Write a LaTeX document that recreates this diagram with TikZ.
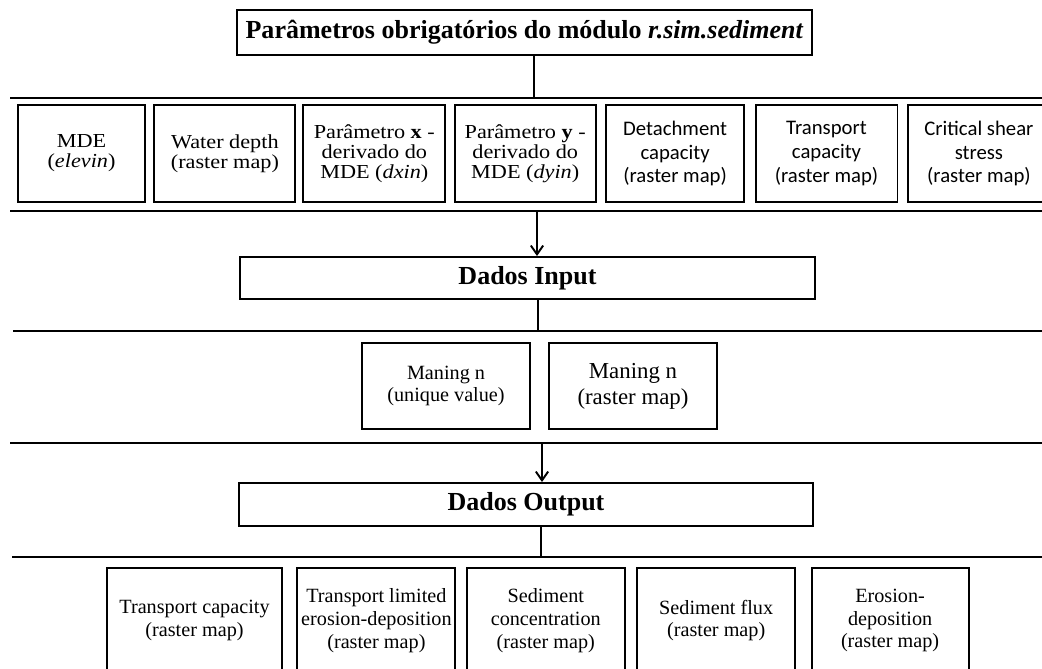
\documentclass[tikz,border=0pt]{standalone}
\usepackage{fontspec}
\setmainfont{Liberation Serif}
\newfontfamily\calibfont{Carlito}
\newfontfamily\widefont[FakeStretch=1.12]{Liberation Serif}
\usetikzlibrary{arrows.meta, positioning}

\tikzset{
  headbox/.style={draw, line width=1.1pt, inner sep=1pt, align=center, font=\fontsize{14.8}{16}\selectfont\bfseries},
  cell/.style={draw, line width=1.1pt, inner sep=1pt, align=center, font=\widefont\fontsize{11.3}{11.3}\selectfont},
  sanscell/.style={cell, font=\calibfont\fontsize{11.8}{13.6}\selectfont},
  outcell/.style={cell, font=\fontsize{11.5}{13}\selectfont},
  rule/.style={line width=1.2pt},
  link/.style={line width=0.7pt},
  arr/.style={line width=1.1pt, -{Straight Barb[length=5pt, width=7pt, line width=1.1pt]}}
}

\begin{document}
\begin{tikzpicture}[x=0.02cm, y=-0.02cm]
\useasboundingbox (0,0) rectangle (1042,669);
\clip (0,0) rectangle (1042,669);

% title
\node[headbox, minimum width=11.5cm, minimum height=0.9cm] (param) at (524.5,32.5)
  {Parâmetros obrigatórios do módulo \textit{r.sim.sediment}};

% rules of the first row
\coordinate (ruleAw) at (10,98);
\coordinate (ruleAe) at (1042,98);
\coordinate (ruleBw) at (10,211);
\coordinate (ruleBe) at (1042,211);
\draw[rule] (ruleAw) -- (ruleAe);
\draw[rule] (ruleBw) -- (ruleBe);
\coordinate (pA) at (534,98);
\draw[link] (param.south -| pA) -- (pA);

% mandatory parameters
\node[cell, minimum width=2.54cm, minimum height=1.94cm] (mde) at (81.5,153.5) {MDE\\(\textit{elevin})};
\node[cell, minimum width=2.82cm, minimum height=1.94cm, right=0.15cm of mde] (water) {Water depth\\(raster map)};
\node[cell, minimum width=2.84cm, minimum height=1.94cm, right=0.12cm of water] (dxin) {Parâmetro \textbf{x} -\\derivado do\\MDE (\textit{dxin})};
\node[cell, minimum width=2.82cm, minimum height=1.94cm, right=0.15cm of dxin] (dyin) {Parâmetro \textbf{y} -\\derivado do\\MDE (\textit{dyin})};
\node[sanscell, minimum width=2.76cm, minimum height=1.94cm, right=0.17cm of dyin] (detach) {Detachment\\capacity\\(raster map)};
\node[sanscell, minimum width=2.84cm, minimum height=1.94cm, right=0.19cm of detach] (transp) {Transport\\capacity\\(raster map)};
\node[sanscell, minimum width=2.84cm, minimum height=1.94cm, right=0.17cm of transp] (shear) {Critical shear\\stress\\(raster map)};

% input data
\node[headbox, minimum width=11.5cm, minimum height=0.84cm] (dadosin) at (527.5,278) {Dados Input};
\coordinate (pB) at (537,211);
\draw[arr] (pB) -- (pB |- dadosin.north);
\coordinate (ruleCw) at (13,331);
\coordinate (ruleCe) at (1042,331);
\draw[rule] (ruleCw) -- (ruleCe);
\coordinate (pC) at (538,331);
\draw[link] (dadosin.south -| pC) -- (pC);

\node[cell, font=\fontsize{11.5}{13}\selectfont, minimum width=3.36cm, minimum height=1.72cm] (maningA) at (446,386) {Maning n\\(unique value)};
\node[cell, font=\fontsize{13}{15}\selectfont, minimum width=3.36cm, minimum height=1.72cm] (maningB) at (633,386) {\raisebox{4pt}{\begin{tabular}{@{}c@{}}Maning n\\(raster map)\end{tabular}}};

\coordinate (ruleDw) at (10,443);
\coordinate (ruleDe) at (1042,443);
\draw[rule] (ruleDw) -- (ruleDe);

% output data
\node[headbox, minimum width=11.48cm, minimum height=0.86cm] (dadosout) at (526,504.5) {Dados Output};
\coordinate (pD) at (542,443);
\draw[arr] (pD) -- (pD |- dadosout.north);
\coordinate (ruleEw) at (12,557);
\coordinate (ruleEe) at (1042,557);
\draw[rule] (ruleEw) -- (ruleEe);
\coordinate (pE) at (541,557);
\draw[link] (dadosout.south -| pE) -- (pE);

\node[outcell, minimum width=3.5cm, minimum height=2.1cm] (tcap) at (194.5,620.5) {Transport capacity\\(raster map)};
\node[outcell, minimum width=3.16cm, minimum height=2.1cm, right=0.27cm of tcap] (tlim) {Transport limited\\erosion-deposition\\(raster map)};
\node[outcell, minimum width=3.16cm, minimum height=2.1cm, right=0.19cm of tlim] (conc) {Sediment\\concentration\\(raster map)};
\node[outcell, minimum width=3.16cm, minimum height=2.1cm, right=0.21cm of conc] (flux) {Sediment flux\\(raster map)};
\node[outcell, minimum width=3.14cm, minimum height=2.1cm, right=0.29cm of flux] (erodep) {Erosion-\\deposition\\(raster map)};
\end{tikzpicture}
\end{document}
